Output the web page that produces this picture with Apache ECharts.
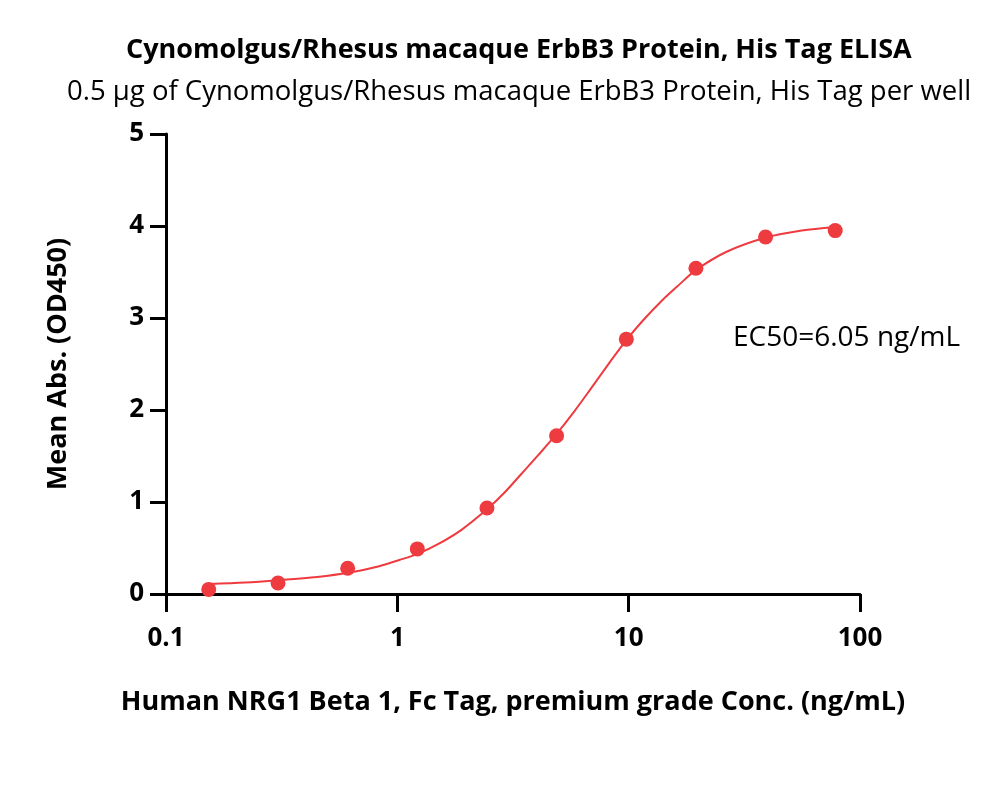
<!DOCTYPE html>
<html>
<head>
<meta charset="utf-8">
<script src="https://cdn.jsdelivr.net/npm/echarts@6/dist/echarts.min.js"></script>
<style>html,body{margin:0;padding:0;background:#fff}#c{width:1000px;height:790px}</style>
</head>
<body>
<div id="c"></div>
<script>
const titleText = 'Cynomolgus/Rhesus macaque ErbB3 Protein, His Tag ELISA';
const subtitleText = '0.5 µg of Cynomolgus/Rhesus macaque ErbB3 Protein, His Tag per well';
const xName = 'Human NRG1 Beta 1, Fc Tag, premium grade Conc. (ng/mL)';
const yName = 'Mean Abs. (OD450)';
const ec50Text = 'EC50=6.05 ng/mL';

const concentrations = [0.153, 0.305, 0.61, 1.22, 2.44, 4.88, 9.77, 19.53, 39.06, 78.13];
const meanAbs = [0.05, 0.12, 0.28, 0.49, 0.935, 1.72, 2.77, 3.54, 3.88, 3.95];

const curveX = [0.153, 0.22, 0.307, 0.45, 0.617, 0.8, 1.02, 1.21, 1.52, 1.9, 2.44, 2.9, 3.45, 4.1, 4.88, 5.8, 6.9, 8.4, 9.77, 11.5, 13.8, 16.5, 19.5, 26.5, 38.6, 56, 78.13];
const curveY = [0.11, 0.125, 0.15, 0.185, 0.23, 0.29, 0.37, 0.43, 0.55, 0.70, 0.92, 1.1, 1.31, 1.52, 1.74, 1.98, 2.24, 2.54, 2.76, 2.97, 3.18, 3.36, 3.52, 3.72, 3.87, 3.95, 3.99];

const xTicks = [0.1, 1, 10, 100];
const yTicks = [0, 1, 2, 3, 4, 5];

const FONT = '"Open Sans"';
const RED = '#EE3B40';

const chart = echarts.init(document.getElementById('c'));
chart.setOption({
  backgroundColor: '#fff',
  animation: false,
  title: [
    { text: titleText, left: 121, top: 32,
      textStyle: { fontFamily: FONT, fontWeight: 'bold', fontSize: 27, color: '#000' } },
    { text: subtitleText, left: 62, top: 73,
      textStyle: { fontFamily: FONT, fontWeight: 'normal', fontSize: 27.5, color: '#000' } }
  ],
  graphic: [
    { type: 'text', left: 733, top: 324,
      style: { text: ec50Text, font: '28px ' + FONT, fill: '#000' } }
  ],
  grid: { left: 166, right: 140, top: 134, bottom: 196, containLabel: false },
  xAxis: {
    type: 'log', logBase: 10, min: 0.1, max: 100,
    name: xName, nameLocation: 'middle', nameGap: 95,
    nameTextStyle: { fontFamily: FONT, fontWeight: 'bold', fontSize: 27, color: '#000' },
    axisLine: { onZero: false, lineStyle: { color: '#000', width: 3 } },
    axisTick: { show: true, length: 18, lineStyle: { color: '#000', width: 3 } },
    minorTick: { show: false },
    splitLine: { show: false },
    axisLabel: { margin: 32, fontFamily: FONT, fontWeight: 'bold', fontSize: 26, color: '#000',
      formatter: v => { const t = xTicks.find(k => Math.abs(k - v) / k < 1e-6); return t === undefined ? '' : String(t); } }
  },
  yAxis: {
    type: 'value', min: 0, max: 5, interval: 1,
    name: yName, nameLocation: 'middle', nameGap: 94,
    nameTextStyle: { fontFamily: FONT, fontWeight: 'bold', fontSize: 27, color: '#000' },
    axisLine: { show: true, lineStyle: { color: '#000', width: 3 } },
    axisTick: { show: true, length: 16, lineStyle: { color: '#000', width: 3 } },
    splitLine: { show: false },
    axisLabel: { margin: 22, fontFamily: FONT, fontWeight: 'bold', fontSize: 26, color: '#000',
      formatter: v => yTicks.includes(v) ? String(v) : '' }
  },
  series: [
    { type: 'line', data: curveX.map((x, i) => [x, curveY[i]]), smooth: 0.3,
      showSymbol: false, lineStyle: { color: RED, width: 2 }, z: 2 },
    { type: 'scatter', data: concentrations.map((x, i) => [x, meanAbs[i]]),
      symbol: 'circle', symbolSize: 15, itemStyle: { color: RED, opacity: 1 }, z: 3 }
  ]
});
</script>
</body>
</html>
